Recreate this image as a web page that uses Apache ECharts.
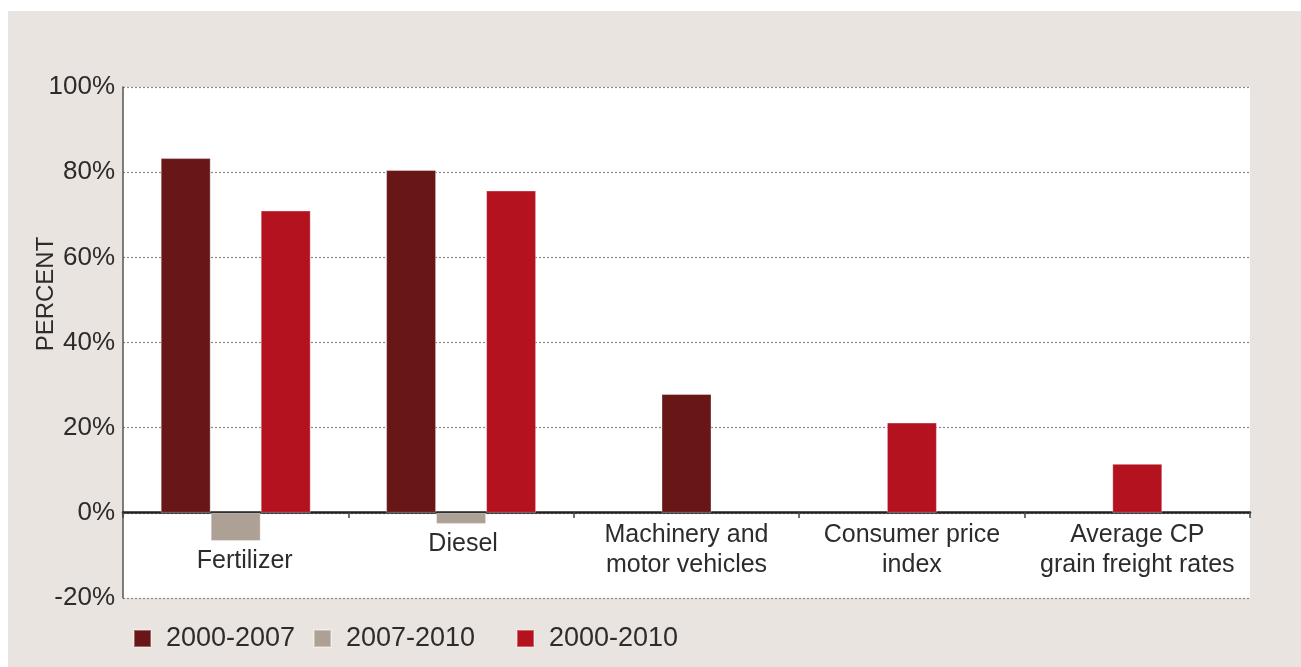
<!DOCTYPE html>
<html>
<head>
<meta charset="utf-8">
<script src="https://cdn.jsdelivr.net/npm/echarts@6/dist/echarts.min.js"></script>
<style>
html,body{margin:0;padding:0;background:#fff;width:1301px;height:667px;overflow:hidden;}
#chart{position:absolute;left:8px;top:11px;width:1293px;height:656px;}
</style>
</head>
<body>
<div id="chart"></div>
<script>
const categories = ['Fertilizer', 'Diesel', 'Machinery and\nmotor vehicles', 'Consumer price\nindex', 'Average CP\ngrain freight rates'];
const seriesNames = ['2000-2007', '2007-2010', '2000-2010'];
const v2000_2007 = [83.3, 80.5, 27.9, null, null];
const v2007_2010 = [-6.6, -2.6, null, null, null];
const v2000_2010 = [71.0, 75.7, null, 21.2, 11.5];
const yTicks = [-20, 0, 20, 40, 60, 80, 100];
const yTitle = 'PERCENT';

const colors = ['#681616', '#ada195', '#b3121e'];
const allValues = [v2000_2007, v2007_2010, v2000_2010];
const counts = categories.map((c, i) => allValues.filter(a => a[i] !== null).length);
const grouped = allValues.map(a => a.map((v, i) => counts[i] > 1 ? v : null));
const single = allValues.map(a => a.map((v, i) => counts[i] === 1 ? v : null));

const font = '"Liberation Sans", Arial, sans-serif';
const txt = '#2e2b2b';

const catData = categories.map((c, i) => {
  if (i === 0) return {value: c, textStyle: {padding: [26, 0, 0, 18]}};
  if (i === 1) return {value: c, textStyle: {padding: [9, 0, 0, 4]}};
  return c;
});

const series = [];
seriesNames.forEach((n, k) => {
  series.push({
    name: n, type: 'bar', xAxisIndex: 0, yAxisIndex: 0,
    data: grouped[k], barWidth: 50, barGap: '0%',
    itemStyle: {color: colors[k], borderColor: 'rgba(255,255,255,0.35)', borderWidth: 1},
    emphasis: {disabled: true}
  });
});
seriesNames.forEach((n, k) => {
  if (single[k].some(v => v !== null)) {
    series.push({
      name: n, type: 'bar', xAxisIndex: 1, yAxisIndex: 0, stack: 'single',
      data: single[k], barWidth: 50,
      itemStyle: {color: colors[k], borderColor: 'rgba(255,255,255,0.35)', borderWidth: 1},
      emphasis: {disabled: true}
    });
  }
});

const legendLefts = [125, 305, 508];
const chart = echarts.init(document.getElementById('chart'));
chart.setOption({
  animation: false,
  backgroundColor: '#e9e4e0',
  textStyle: {fontFamily: font},
  grid: {left: 115, right: 51, top: 76, bottom: 69, show: true, backgroundColor: '#ffffff', borderWidth: 0,
         containLabel: false, outerBoundsMode: 'none'},
  legend: seriesNames.map((n, k) => ({
    data: [n], left: legendLefts[k], top: 614, padding: 0, icon: 'rect', itemWidth: 17, itemHeight: 17,
    textStyle: {fontFamily: font, fontSize: 27, color: txt, padding: [0, 0, 0, 10]},
    selectedMode: false
  })),
  graphic: [{
    type: 'text', x: 38, y: 283, rotation: Math.PI / 2,
    style: {text: yTitle, fontFamily: font, fontSize: 24, fill: txt, align: 'center', verticalAlign: 'middle'}
  }],
  xAxis: [{
    type: 'category', data: catData, offset: -86,
    axisLine: {onZero: false, lineStyle: {color: '#222', width: 2.5}},
    axisTick: {show: true, length: 6, lineStyle: {color: '#444', width: 1.5}},
    axisLabel: {fontFamily: font, fontSize: 25, lineHeight: 30, color: txt, margin: 8, interval: 0}
  }, {
    type: 'category', data: categories, show: false
  }],
  yAxis: {
    type: 'value', min: yTicks[0], max: yTicks[yTicks.length - 1], interval: 20,
    axisLine: {show: true, lineStyle: {color: '#555', width: 1.5}},
    axisTick: {show: false},
    axisLabel: {fontFamily: font, fontSize: 26, color: txt, margin: 8, formatter: '{value}%'},
    splitLine: {show: true, lineStyle: {color: '#888', type: [2, 2], width: 1.2}}
  },
  series: series
});
</script>
</body>
</html>
